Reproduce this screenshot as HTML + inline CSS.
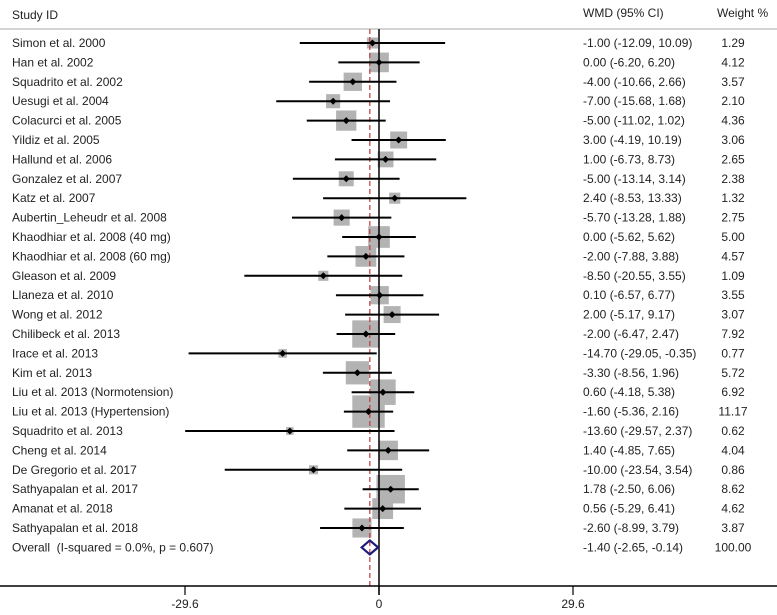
<!DOCTYPE html>
<html><head><meta charset="utf-8"><style>
body{margin:0;background:#fff;}
svg text{font-family:"Liberation Sans",Arial,sans-serif;font-size:12px;fill:#222;}
</style></head><body>
<svg id="plot" width="777" height="610" xmlns="http://www.w3.org/2000/svg">
<text x="12" y="19">Study ID</text>
<text x="583" y="17">WMD (95% CI)</text>
<text x="717" y="17">Weight %</text>
<line x1="0" y1="29" x2="777" y2="29" stroke="#aaa" stroke-width="1"/>
</svg>
<script>
const studies=["Simon et al. 2000","Han et al. 2002","Squadrito et al. 2002","Uesugi et al. 2004","Colacurci et al. 2005","Yildiz et al. 2005","Hallund et al. 2006","Gonzalez et al. 2007","Katz et al. 2007","Aubertin_Leheudr et al. 2008","Khaodhiar et al. 2008 (40 mg)","Khaodhiar et al. 2008 (60 mg)","Gleason et al. 2009","Llaneza et al. 2010","Wong et al. 2012","Chilibeck et al. 2013","Irace et al. 2013","Kim et al. 2013","Liu et al. 2013 (Normotension)","Liu et al. 2013 (Hypertension)","Squadrito et al. 2013","Cheng et al. 2014","De Gregorio et al. 2017","Sathyapalan et al. 2017","Amanat et al. 2018","Sathyapalan et al. 2018"];
const effects=[-1.00,0.00,-4.00,-7.00,-5.00,3.00,1.00,-5.00,2.40,-5.70,0.00,-2.00,-8.50,0.10,2.00,-2.00,-14.70,-3.30,0.60,-1.60,-13.60,1.40,-10.00,1.78,0.56,-2.60];
const lower=[-12.09,-6.20,-10.66,-15.68,-11.02,-4.19,-6.73,-13.14,-8.53,-13.28,-5.62,-7.88,-20.55,-6.57,-5.17,-6.47,-29.05,-8.56,-4.18,-5.36,-29.57,-4.85,-23.54,-2.50,-5.29,-8.99];
const upper=[10.09,6.20,2.66,1.68,1.02,10.19,8.73,3.14,13.33,1.88,5.62,3.88,3.55,6.77,9.17,2.47,-0.35,1.96,5.38,2.16,2.37,7.65,3.54,6.06,6.41,3.79];
const weights=[1.29,4.12,3.57,2.10,4.36,3.06,2.65,2.38,1.32,2.75,5.00,4.57,1.09,3.55,3.07,7.92,0.77,5.72,6.92,11.17,0.62,4.04,0.86,8.62,4.62,3.87];
const overall=[-1.40,-2.65,-0.14];
const overallLabel="Overall\u00a0 (I-squared = 0.0%, p = 0.607)";
const tickValues=[-29.6,0,29.6];
const tickLabels=["-29.6","0","29.6"];

const NS="http://www.w3.org/2000/svg";
const svg=document.getElementById('plot');
const xs=v=>379+v*6.554;
const ys=i=>43+i*19.4;
const f=v=>v.toFixed(2);
function mk(tag,attrs,parent){const e=document.createElementNS(NS,tag);for(const k in attrs)e.setAttribute(k,attrs[k]);(parent||svg).appendChild(e);return e;}

studies.forEach((s,i)=>{
  const y=ys(i), w=9.7*Math.sqrt(weights[i]);
  const b=mk('rect',{x:xs(effects[i])-w/2,y:y-w/2,width:w,height:w,fill:'#b3b3b3'});
  
  
});
const z=mk('line',{x1:xs(0),y1:29,x2:xs(0),y2:595,stroke:'#000','stroke-width':1.5});


const r=mk('line',{x1:xs(overall[0]),y1:29,x2:xs(overall[0]),y2:586,stroke:'#c03a3a','stroke-width':1.2,'stroke-dasharray':'5,3'});



studies.forEach((s,i)=>{
  const y=ys(i);
  const l=mk('line',{x1:xs(lower[i]),y1:y,x2:xs(upper[i]),y2:y,stroke:'#000','stroke-width':2});
  
  
  const cx=xs(effects[i]);
  const p=mk('polygon',{points:`${cx-3.5},${y} ${cx},${y-3.5} ${cx+3.5},${y} ${cx},${y+3.5}`,fill:'#000'});
  
  
  const t=mk('text',{x:12,y:y+4});t.textContent=s;
  
  
  const t2=mk('text',{x:583,y:y+4});t2.textContent=`${f(effects[i])} (${f(lower[i])}, ${f(upper[i])})`;
  
  
  const t3=mk('text',{x:733,y:y+4,'text-anchor':'middle'});t3.textContent=f(weights[i]);
  
  
});
const oy=ys(studies.length);
const d=mk('polygon',{points:`${xs(overall[1])},${oy} ${xs(overall[0])},${oy-7} ${xs(overall[2])},${oy} ${xs(overall[0])},${oy+7}`,fill:'none',stroke:'#1c1c7a','stroke-width':2.2});


const ot=mk('text',{x:12,y:oy+4});ot.textContent=overallLabel;


const ot2=mk('text',{x:583,y:oy+4});ot2.textContent=`${f(overall[0])} (${f(overall[1])}, ${f(overall[2])})`;


const ot3=mk('text',{x:733,y:oy+4,'text-anchor':'middle'});ot3.textContent="100.00";


const ax=mk('line',{x1:0,y1:586,x2:777,y2:586,stroke:'#000','stroke-width':1.5});


tickValues.forEach((v,i)=>{
  const tk=mk('line',{x1:xs(v),y1:586,x2:xs(v),y2:595,stroke:'#000','stroke-width':1.2});
  
  
  const tl=mk('text',{x:xs(v),y:608,'text-anchor':'middle'});tl.textContent=tickLabels[i];
  
  
});
</script>
</body></html>
